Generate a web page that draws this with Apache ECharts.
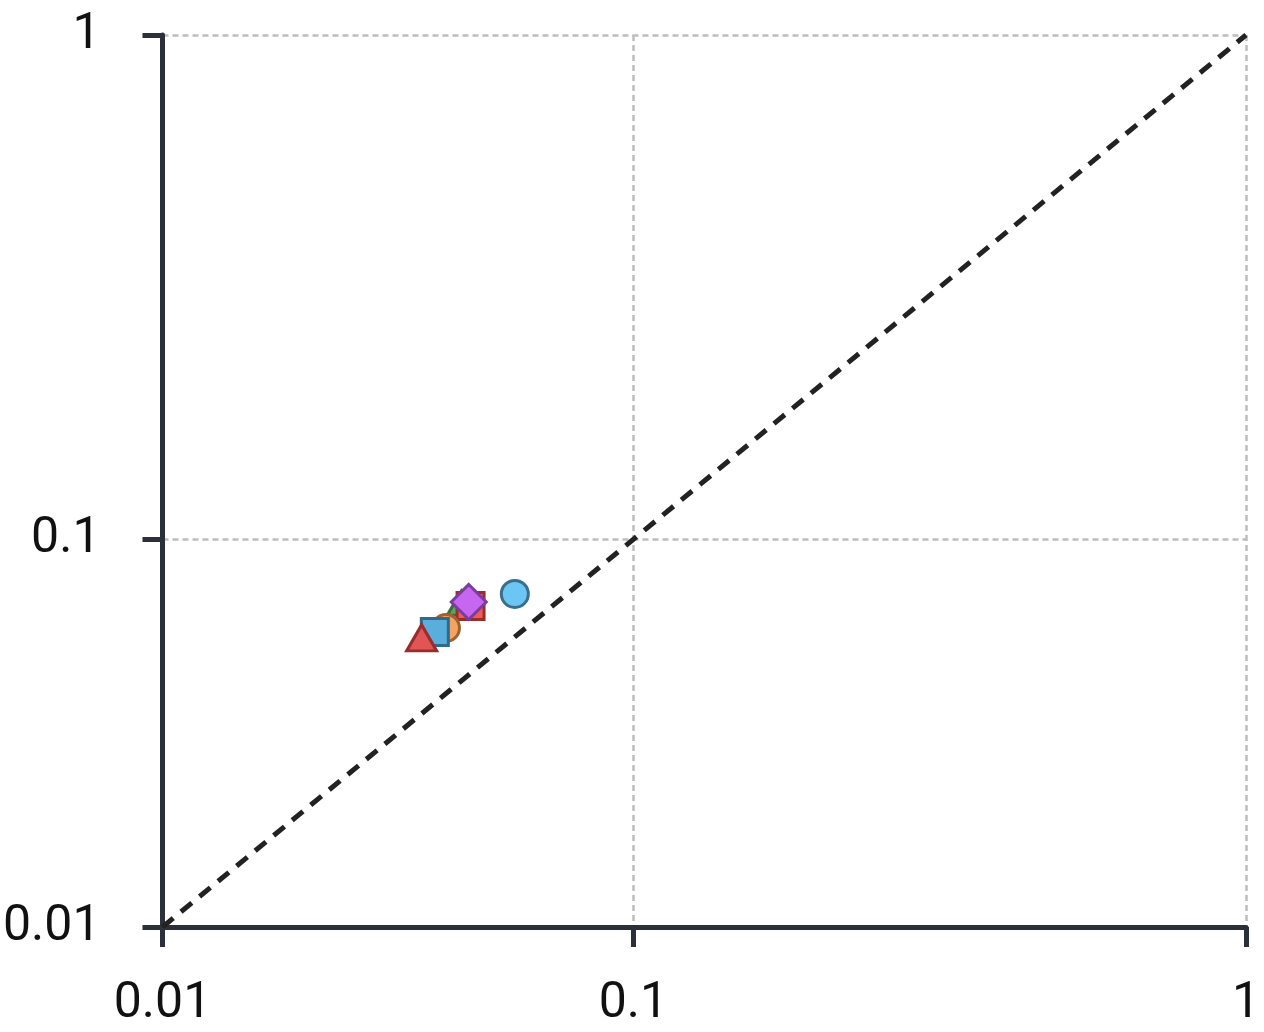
<!DOCTYPE html>
<html>
<head>
<meta charset="utf-8">
<script src="https://cdn.jsdelivr.net/npm/echarts@6/dist/echarts.min.js"></script>
<style>
  html, body { margin: 0; padding: 0; background: #fff; }
  #chart { width: 1264px; height: 1032px; }
</style>
</head>
<body>
<div id="chart"></div>
<script>
// points, drawn in this order (last on top)
var pointNames = ['green', 'redSquare', 'purple', 'blueCircle', 'orange', 'blueSquare', 'redTriangle']
var pointX = [0.049, 0.051, 0.0506, 0.0616, 0.0458, 0.0436, 0.0411]
var pointY = [0.0731, 0.072, 0.0735, 0.0765, 0.0645, 0.0632, 0.0613]
var pointSymbols = ['triangle', 'rect', 'diamond', 'circle', 'circle', 'rect', 'triangle']
var pointFill = ['#5fa45f', '#ee5b5b', '#c766f0', '#6bc6f4', '#f4a462', '#5aaedc', '#e25555']
var pointStroke = ['#3c6e3c', '#9a2c2c', '#7a3d9e', '#3a6e8c', '#a0622c', '#2e6a8e', '#9a2c2c']
var pointSize = [[28, 24], 27, 35, 27, 27, 27, [30, 26]]

var tickValues = [0.01, 0.1, 1]
var tickLabels = ['0.01', '0.1', '1']

// symlog scale, constant 0.01
var C = 0.01
function tf(v) { return Math.log(1 + v / C) }

var tickT = tickValues.map(tf)
function fmt(val) {
  for (var i = 0; i < tickT.length; i++) {
    if (Math.abs(tickT[i] - val) < 1e-6) return tickLabels[i]
  }
  return ''
}

function makeAxis(isX) {
  return {
    type: 'value',
    min: tf(tickValues[0]),
    max: tf(tickValues[tickValues.length - 1]),
    axisLine: { show: true, onZero: false, lineStyle: { color: '#2b303a', width: 5 } },
    axisTick: { show: true, customValues: tickT, length: 20, lineStyle: { color: '#2b303a', width: 5 } },
    axisLabel: {
      customValues: tickT,
      formatter: fmt,
      fontFamily: 'Roboto',
      fontSize: 50,
      color: '#111',
      margin: isX ? 52 : 62,
      showMinLabel: true,
      showMaxLabel: true
    },
    splitLine: {
      show: true,
      showMinLine: false,
      lineStyle: { color: '#bdbdbd', width: 2.5, type: [6, 4] }
    }
  }
}

var series = [{
  type: 'line',
  data: [[tf(0.01), tf(0.01)], [tf(1), tf(1)]],
  symbol: 'none',
  silent: true,
  lineStyle: { color: '#222', width: 5, type: [14, 10] },
  z: 1
}]
pointNames.forEach(function (n, i) {
  series.push({
    name: n,
    type: 'scatter',
    data: [[tf(pointX[i]), tf(pointY[i])]],
    symbol: pointSymbols[i],
    symbolSize: pointSize[i],
    itemStyle: { color: pointFill[i], borderColor: pointStroke[i], borderWidth: 3, opacity: 1 },
    z: 2 + i
  })
})

var option = {
  animation: false,
  grid: { left: 160, right: 18, top: 35, bottom: 105, containLabel: false },
  xAxis: makeAxis(true),
  yAxis: makeAxis(false),
  series: series
}

var chart = echarts.init(document.getElementById('chart'))
chart.setOption(option)
</script>
</body>
</html>
